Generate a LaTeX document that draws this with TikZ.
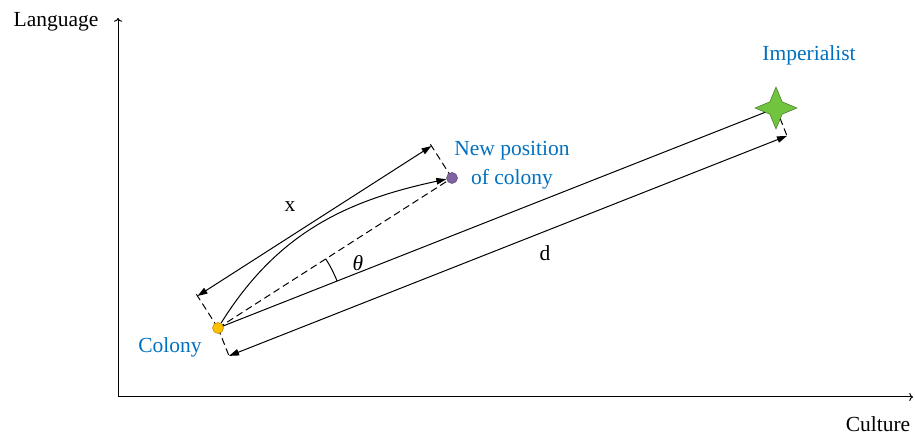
\documentclass[tikz,border=0pt]{standalone}
\usepackage{fontspec}
\setmainfont{Liberation Serif}
\usetikzlibrary{calc,shapes.geometric,angles,arrows.meta}
\definecolor{cblue}{RGB}{0,112,192}
\definecolor{corange}{RGB}{255,192,0}
\definecolor{cpurple}{RGB}{128,100,162}
\definecolor{cgreen}{RGB}{112,196,62}
\tikzset{ica/.style={x=1pt,y=1pt,font=\fontsize{21.5}{29}\selectfont,line width=1pt},
  dot/.style={circle,draw=#1!70!black,fill=#1,inner sep=0pt,minimum size=11pt,line width=0.5pt},
  dashtick/.style={dash pattern=on 7pt off 4pt},
  arr/.style={-{Triangle[length=10pt,width=6.5pt]}},
  darr/.style={{Triangle[length=10pt,width=6.5pt]}-{Triangle[length=10pt,width=6.5pt]}},
  lbl/.style={text=cblue}}

\begin{document}
\begin{tikzpicture}[ica]
    \useasboundingbox (0,0) rectangle (915,436);
    \coordinate (O) at (118,39);
    \coordinate (ytop) at (118,418);
    \coordinate (xend) at (913,39);
    \draw[->] (O) -- (ytop); % y-axis
    \draw[->] (O) -- (xend); % x-axis
    \node (lang) at (56,414) {Language};
    \node (cult) at (878,12) {Culture};
    \coordinate (C) at (218,108); % colony
    \coordinate (N) at (452,258); % new position
    \coordinate (S) at (776,328); % imperialist
    % x distance
    \coordinate (x1) at ($(C)!38pt!90:(N)$);
    \coordinate (x2) at ($(N)!38pt!-90:(C)$);
    \coordinate (xt1) at ($(C)!41pt!90:(N)$);
    \coordinate (xt2) at ($(N)!41pt!-90:(C)$);
    \draw[dashtick] (C) -- (xt1);
    \draw[dashtick] (N) -- (xt2);
    \draw[darr] (x1) -- (x2);
    \node (xl) at (290,229) {x};
    % d distance
    \coordinate (d1) at ($(C)!30pt!-90:(S)$);
    \coordinate (d2) at ($(S)!30pt!90:(C)$);
    \coordinate (dt1) at ($(C)!33pt!-90:(S)$);
    \coordinate (dt2) at ($(S)!33pt!90:(C)$);
    \draw[dashtick] (C) -- (dt1);
    \draw[dashtick] (S) -- (dt2);
    \draw[darr] (d1) -- (d2);
    \node (dl) at (545,183) {d};
    \draw (C) -- (S); % towards imperialist
    \draw[dashtick] (C) -- (N);
    \pic[draw,angle radius=128pt] {angle=S--C--N};
    \node (th) at (358,173) {\textit{θ}};
    % points
    \node[dot=corange] (col) at (C) {};
    \node[dot=cpurple] (new) at (N) {};
    \node[star,star points=4,star point ratio=2.4,minimum size=42pt,inner sep=0pt,
      fill=cgreen,draw=cgreen!60!black,line width=0.5pt] (imp) at (S) {};
    \draw[arr] (col) to[out=58,in=192] (new);
    \node[lbl] (coll) at (170,89) {Colony};
    \node[lbl,align=center] (newl) at (512,271) {New position\\of colony};
    \node[lbl] (impl) at (809,381) {Imperialist};
\end{tikzpicture}
\end{document}
